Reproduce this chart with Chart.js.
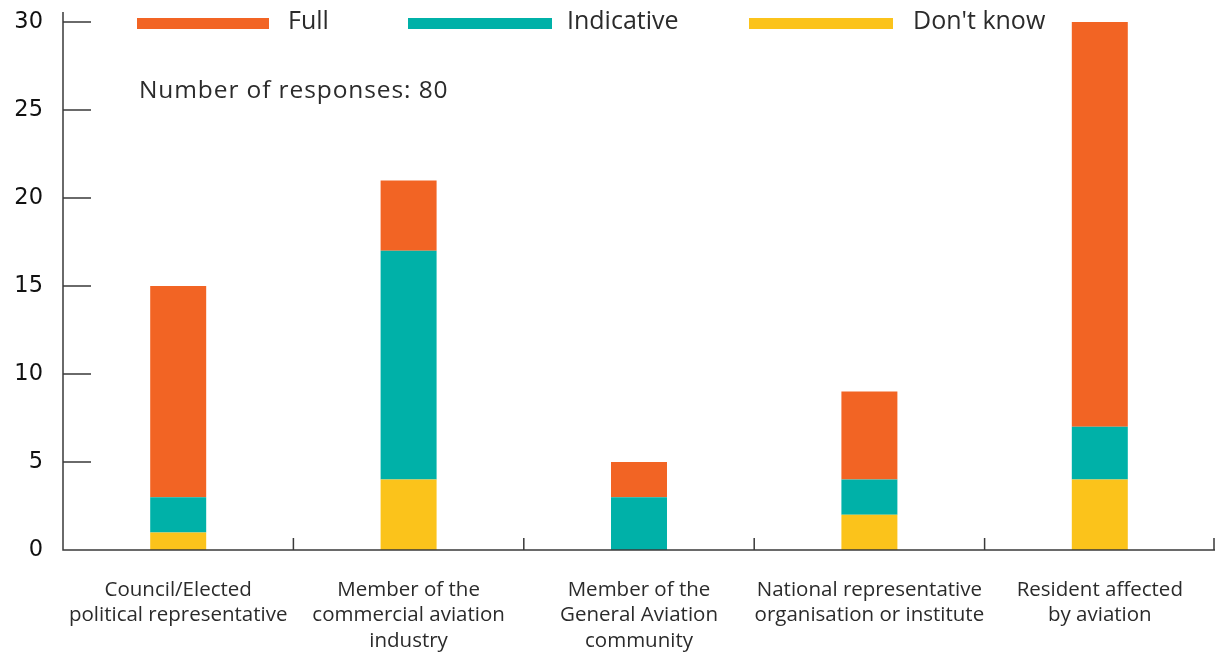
<!DOCTYPE html>
<html>
<head>
<meta charset="utf-8">
<script src="https://cdn.jsdelivr.net/npm/chart.js@4/dist/chart.umd.min.js"></script>
<style>
  html, body { margin: 0; padding: 0; background: #ffffff; }
  #wrap { position: relative; width: 1215px; height: 654px; }
</style>
</head>
<body>
<div id="wrap"><canvas id="chart" width="1215" height="654"></canvas></div>
<script>
// Respondent groups (x axis)
const categories = [
  ['Council/Elected', 'political representative'],
  ['Member of the', 'commercial aviation', 'industry'],
  ['Member of the', 'General Aviation', 'community'],
  ['National representative', 'organisation or institute'],
  ['Resident affected', 'by aviation']
];

// Responses per group, stacked bottom to top
const dontKnow   = [1, 4, 0, 2, 4];
const indicative = [2, 13, 3, 2, 3];
const full       = [12, 4, 2, 5, 23];

const yTicks = [0, 5, 10, 15, 20, 25, 30];
const responsesNote = 'Number of responses: 80';

const COLORS = { full: '#F26424', indicative: '#00B1A8', dontKnow: '#FBC31B' };
const AXIS = '#3a3a3a';
const TEXT = '#2b2b2b';
const LABEL_FONT = '"Open Sans"';
const NUM_FONT = '"DejaVu Sans"';

// Axis lines, inward tick marks, legend and note
const decorations = {
  id: 'decorations',
  afterDatasetsDraw(chart) {
    const { ctx, chartArea: a, scales: { x, y } } = chart;
    ctx.save();
    ctx.strokeStyle = AXIS;
    ctx.lineWidth = 1.5;
    ctx.beginPath();
    // y axis
    ctx.moveTo(a.left, a.top - 10);
    ctx.lineTo(a.left, a.bottom);
    // x axis
    ctx.lineTo(a.right, a.bottom);
    // y ticks pointing into the plot
    yTicks.forEach(v => {
      const py = y.getPixelForValue(v);
      ctx.moveTo(a.left, py);
      ctx.lineTo(a.left + 28, py);
    });
    // x ticks between categories
    for (let i = 1; i <= categories.length; i++) {
      const px = i < categories.length
        ? (x.getPixelForValue(i - 1) + x.getPixelForValue(i)) / 2
        : a.right - 1;
      ctx.moveTo(px, a.bottom);
      ctx.lineTo(px, a.bottom - 12);
    }
    ctx.stroke();

    // legend: long colour strips followed by the series name
    const legendItems = [
      { ds: 2, x0: 137, x1: 269, tx: 288 },
      { ds: 1, x0: 408, x1: 552, tx: 567 },
      { ds: 0, x0: 749, x1: 893, tx: 913 }
    ];
    ctx.font = '25px ' + LABEL_FONT;
    ctx.textBaseline = 'alphabetic';
    ctx.textAlign = 'left';
    legendItems.forEach(it => {
      const ds = chart.data.datasets[it.ds];
      ctx.fillStyle = ds.backgroundColor;
      ctx.fillRect(it.x0, 18, it.x1 - it.x0, 11);
      ctx.fillStyle = TEXT;
      ctx.fillText(ds.label, it.tx, 29);
    });

    ctx.font = '24.5px ' + LABEL_FONT;
    ctx.letterSpacing = '0.9px';
    ctx.fillText(responsesNote, 139, 98);
    ctx.restore();
  }
};

new Chart(document.getElementById('chart'), {
  type: 'bar',
  data: {
    labels: categories,
    datasets: [
      { label: "Don't know", data: dontKnow, backgroundColor: COLORS.dontKnow },
      { label: 'Indicative', data: indicative, backgroundColor: COLORS.indicative },
      { label: 'Full', data: full, backgroundColor: COLORS.full }
    ]
  },
  options: {
    responsive: false,
    animation: false,
    devicePixelRatio: 1,
    layout: { padding: { top: 22, right: 0, bottom: 0, left: 0 } },
    datasets: { bar: { categoryPercentage: 1, barPercentage: 0.243, borderWidth: 0 } },
    plugins: { legend: { display: false }, tooltip: { enabled: false } },
    scales: {
      x: {
        stacked: true,
        grid: { display: false, drawTicks: false },
        border: { display: false },
        ticks: {
          color: TEXT,
          padding: 27,
          maxRotation: 0,
          autoSkip: false,
          font: { family: LABEL_FONT, size: 20.5, lineHeight: 1.25 }
        },
        afterFit(scale) {
          scale.height = 104;
          scale.paddingLeft = 0;
          scale.paddingRight = 0;
        }
      },
      y: {
        stacked: true,
        min: 0,
        max: 30,
        grid: { display: false, drawTicks: false },
        border: { display: false },
        afterBuildTicks(scale) { scale.ticks = yTicks.map(v => ({ value: v })); },
        ticks: {
          color: '#111',
          padding: 20,
          font: { family: NUM_FONT, size: 22.5 }
        },
        afterFit(scale) {
          scale.width = 63;
          scale.paddingTop = 0;
          scale.paddingBottom = 0;
        }
      }
    }
  },
  plugins: [decorations]
});
</script>
</body>
</html>
